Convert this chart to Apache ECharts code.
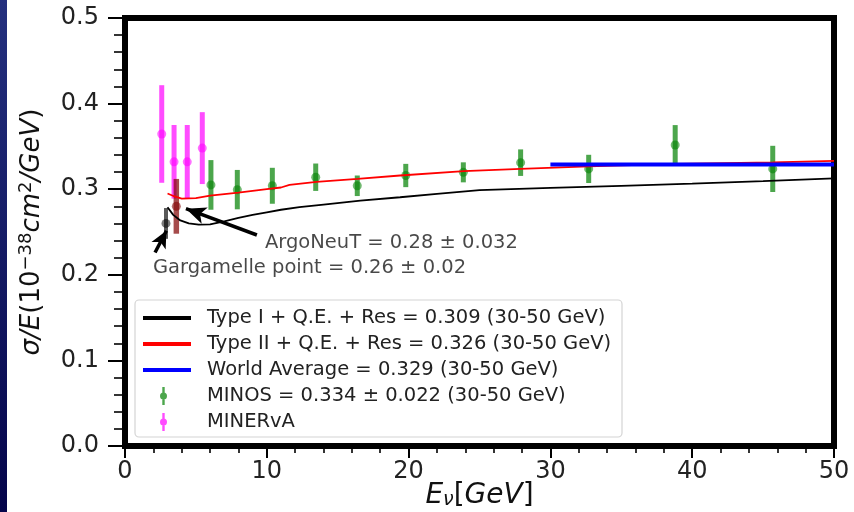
<!DOCTYPE html>
<html><head><meta charset="utf-8">
<script src="https://cdn.jsdelivr.net/npm/echarts@6/dist/echarts.min.js"></script>
<style>html,body{margin:0;padding:0;background:#fff}#c{width:854px;height:512px}</style>
</head><body><div id="c"></div>
<script>
// ---- data ----
const xTicks = [0, 10, 20, 30, 40, 50];
const yTicks = [0.0, 0.1, 0.2, 0.3, 0.4, 0.5];

const typeI_name = 'Type I + Q.E. + Res = 0.309 (30-50 GeV)';
const typeI_E     = [3.0, 3.4, 3.9, 4.5, 5.2, 6.0, 7.0, 8.0, 9.0, 10.0, 11.0, 12.3, 14.0, 16.6, 19.4, 22.0, 25.0, 30.0, 35.0, 40.0, 45.0, 50.0];
const typeI_sigma = [0.279, 0.270, 0.2635, 0.260, 0.2587, 0.259, 0.2625, 0.2665, 0.270, 0.273, 0.276, 0.279, 0.282, 0.2867, 0.2906, 0.2945, 0.299, 0.3015, 0.304, 0.3065, 0.3095, 0.3127];

const typeII_name = 'Type II + Q.E. + Res = 0.326 (30-50 GeV)';
const typeII_E     = [3.0, 3.5, 4.0, 5.0, 6.0, 8.0, 10.0, 11.0, 11.6, 13.5, 16.4, 19.4, 23.9, 27.9, 32.7, 38.8, 45.7, 50.0];
const typeII_sigma = [0.295, 0.2915, 0.289, 0.2895, 0.2925, 0.296, 0.300, 0.302, 0.305, 0.3085, 0.312, 0.316, 0.321, 0.3237, 0.3267, 0.3295, 0.3314, 0.333];

const world_name = 'World Average = 0.329 (30-50 GeV)';
const world_E     = [30, 50];
const world_sigma = [0.329, 0.329];

const minos_name = 'MINOS = 0.334 ± 0.022 (30-50 GeV)';
const minos_E     = [6.06, 7.92, 10.39, 13.45, 16.38, 19.8, 23.86, 27.9, 32.7, 38.8, 45.68];
const minos_sigma = [0.305, 0.2995, 0.304, 0.314, 0.304, 0.316, 0.3197, 0.331, 0.3237, 0.3516, 0.3237];
const minos_err   = [0.029, 0.023, 0.021, 0.016, 0.012, 0.0136, 0.0117, 0.0155, 0.0165, 0.0233, 0.027];

const minerva_name = 'MINERvA';
const minerva_E     = [2.59, 3.46, 4.39, 5.45];
const minerva_sigma = [0.3645, 0.332, 0.332, 0.348];
const minerva_err   = [0.057, 0.043, 0.043, 0.042];

const garg_E = [2.89], garg_sigma = [0.26], garg_err = [0.018];
const argo_E = [3.62], argo_sigma = [0.28], argo_err = [0.032];

const argo_text = 'ArgoNeuT = 0.28 ± 0.032';
const garg_text = 'Gargamelle point = 0.26 ± 0.02';

// ---- helpers ----
const FONT = 'DejaVu Sans';
const zip2 = (a, b) => a.map((v, i) => [v, b[i]]);
const zip3 = (a, b, c) => a.map((v, i) => [v, b[i], c[i]]);

function errRender(color, width) {
  return function (params, api) {
    const x = api.value(0), y = api.value(1), e = api.value(2);
    const p1 = api.coord([x, y + e]), p2 = api.coord([x, y - e]);
    return { type: 'line', shape: { x1: p1[0], y1: p1[1], x2: p2[0], y2: p2[1] },
             style: { stroke: color, lineWidth: width } };
  };
}
function errSeries(name, E, S, Er, color, width) {
  return { type: 'custom', name: name, data: zip3(E, S, Er), encode: { x: 0, y: 1 },
           renderItem: errRender(color, width), itemStyle: { color: color }, z: 2, silent: true };
}
function dotSeries(name, E, S, color, size) {
  return { type: 'scatter', name: name, data: zip2(E, S), symbol: 'circle', symbolSize: size,
           itemStyle: { color: color }, z: 2, silent: true };
}

const GREEN = 'rgba(0,128,0,0.7)';
const MAGENTA = 'rgba(255,0,255,0.7)';
const GRAY = 'rgba(0,0,0,0.65)';
const BROWN = 'rgba(128,0,0,0.7)';
const ERR_ICON = 'path://M2.3,0H4.7V18H2.3Z M0,9A3.5,3.5,0,1,1,7,9A3.5,3.5,0,1,1,0,9Z';

const chart = echarts.init(document.getElementById('c'), null, { renderer: 'canvas' });
chart.setOption({
  animation: false,
  backgroundColor: '#fff',
  grid: { left: 125, right: 20, top: 18, bottom: 66, show: true, borderColor: '#000', borderWidth: 6,
          backgroundColor: '#fff', containLabel: false, outerBoundsMode: 'none' },
  graphic: [
    { type: 'rect', z: -1, shape: { x: 0, y: 0, width: 7, height: 512 },
      style: { fill: { type: 'linear', x: 0, y: 0, x2: 0, y2: 1,
        colorStops: [{ offset: 0, color: '#24307e' }, { offset: 1, color: '#04044a' }] } } },
    { type: 'rect', z: 10, shape: { x: 135, y: 300, width: 487, height: 137, r: 4 },
      style: { fill: '#fff', stroke: '#d4d4d4', lineWidth: 1.2 } }
  ],
  legend: [
    { orient: 'vertical', left: 143, top: 308, z: 20, padding: 0, itemWidth: 48, itemHeight: 4, itemGap: 6,
      selectedMode: false, icon: 'rect',
      textStyle: { fontFamily: FONT, fontSize: 19.5, color: '#222', lineHeight: 20, padding: [0, 0, 0, 11] },
      data: [
        { name: typeI_name, icon: 'rect', itemStyle: { color: '#000' } },
        { name: typeII_name, icon: 'rect', itemStyle: { color: '#ff0000' } },
        { name: world_name, icon: 'rect', itemStyle: { color: '#0000ff' } }
      ] },
    { orient: 'vertical', left: 160, top: 386, z: 20, padding: 0, itemWidth: 7, itemHeight: 18, itemGap: 6,
      selectedMode: false,
      textStyle: { fontFamily: FONT, fontSize: 19.5, color: '#222', lineHeight: 20, padding: [0, 0, 0, 35] },
      data: [
        { name: minos_name, icon: ERR_ICON, itemStyle: { color: GREEN } },
        { name: minerva_name, icon: ERR_ICON, itemStyle: { color: MAGENTA } }
      ] }
  ],
  xAxis: {
    type: 'value', min: xTicks[0], max: xTicks[xTicks.length - 1], interval: 10,
    splitLine: { show: false },
    axisLine: { show: false, onZero: false },
    axisTick: { show: true, inside: false, length: 12, lineStyle: { color: '#000', width: 2 } },
    minorTick: { show: true, splitNumber: 5, length: 7, lineStyle: { color: '#000', width: 1.6 } },
    minorSplitLine: { show: false },
    axisLabel: { margin: 14, fontSize: 24, color: '#222', fontFamily: FONT, formatter: v => String(v) },
    name: '{i|E}{sub|ν}{r|[}{i|GeV}{r|]}',
    nameLocation: 'middle', nameGap: 36, nameMoveOverlap: false,
    nameTextStyle: { rich: {
      i: { fontFamily: FONT, fontSize: 28, fontStyle: 'italic', color: '#111' },
      r: { fontFamily: FONT, fontSize: 28, color: '#111' },
      sub: { fontFamily: FONT, fontSize: 19, fontStyle: 'italic', color: '#111', verticalAlign: 'bottom' }
    } }
  },
  yAxis: {
    type: 'value', min: yTicks[0], max: yTicks[yTicks.length - 1], interval: 0.1,
    splitLine: { show: false },
    axisLine: { show: false, onZero: false },
    axisTick: { show: true, inside: false, length: 17, lineStyle: { color: '#000', width: 2 } },
    minorTick: { show: true, splitNumber: 5, length: 11, lineStyle: { color: '#000', width: 1.6 } },
    minorSplitLine: { show: false },
    axisLabel: { margin: 26, fontSize: 24, color: '#222', fontFamily: FONT, formatter: v => v.toFixed(1) },
    name: '{i|σ/E}{r|(10}{s|−38}{i|cm}{s|2}{i|/GeV}{r|)}',
    nameLocation: 'middle', nameGap: 78, nameRotate: 90,
    nameTextStyle: { rich: {
      i: { fontFamily: FONT, fontSize: 26, fontStyle: 'italic', color: '#111', lineHeight: 30 },
      r: { fontFamily: FONT, fontSize: 26, color: '#111', lineHeight: 30 },
      s: { fontFamily: FONT, fontSize: 18, color: '#111', verticalAlign: 'top' }
    } }
  },
  series: [
    errSeries(minerva_name, minerva_E, minerva_sigma, minerva_err, MAGENTA, 5),
    dotSeries(minerva_name, minerva_E, minerva_sigma, MAGENTA, 9),
    errSeries(minos_name, minos_E, minos_sigma, minos_err, GREEN, 5),
    dotSeries(minos_name, minos_E, minos_sigma, GREEN, 9),
    errSeries('Gargamelle', garg_E, garg_sigma, garg_err, GRAY, 4),
    dotSeries('Gargamelle', garg_E, garg_sigma, GRAY, 9),
    errSeries('ArgoNeuT', argo_E, argo_sigma, argo_err, BROWN, 5.5),
    dotSeries('ArgoNeuT', argo_E, argo_sigma, BROWN, 9),
    { type: 'line', name: typeI_name, data: zip2(typeI_E, typeI_sigma), symbol: 'none', showSymbol: false,
      lineStyle: { color: '#000', width: 1.8 }, itemStyle: { color: '#000' }, z: 3, silent: true },
    { type: 'line', name: typeII_name, data: zip2(typeII_E, typeII_sigma), symbol: 'none', showSymbol: false,
      lineStyle: { color: '#ff0000', width: 1.8 }, itemStyle: { color: '#ff0000' }, z: 3, silent: true },
    { type: 'line', name: world_name, data: zip2(world_E, world_sigma), symbol: 'none', showSymbol: false,
      lineStyle: { color: '#0000ff', width: 4 }, itemStyle: { color: '#0000ff' }, z: 4, silent: true },
    { type: 'scatter', name: 'annotations', symbolSize: 0, z: 5, silent: true,
      label: { show: true, position: 'right', distance: 0, fontFamily: FONT, fontSize: 19.5, color: '#1a1a1a' },
      data: [
        { value: [9.87, 0.2378], label: { formatter: argo_text } },
        { value: [1.97, 0.2075], label: { formatter: garg_text } }
      ],
      markLine: { silent: true, animation: false, symbol: ['none', 'arrow'], symbolSize: [13, 20],
        lineStyle: { color: '#000', width: 3.5, type: 'solid' }, label: { show: false },
        emphasis: { disabled: true },
        data: [
          [{ coord: [9.3, 0.2465] }, { coord: [4.3, 0.2772], symbolSize: [13, 20] }],
          [{ coord: [2.12, 0.226] }, { coord: [2.92, 0.2515], symbolSize: [12, 17] }]
        ] } }
  ]
});
</script>
</body></html>
